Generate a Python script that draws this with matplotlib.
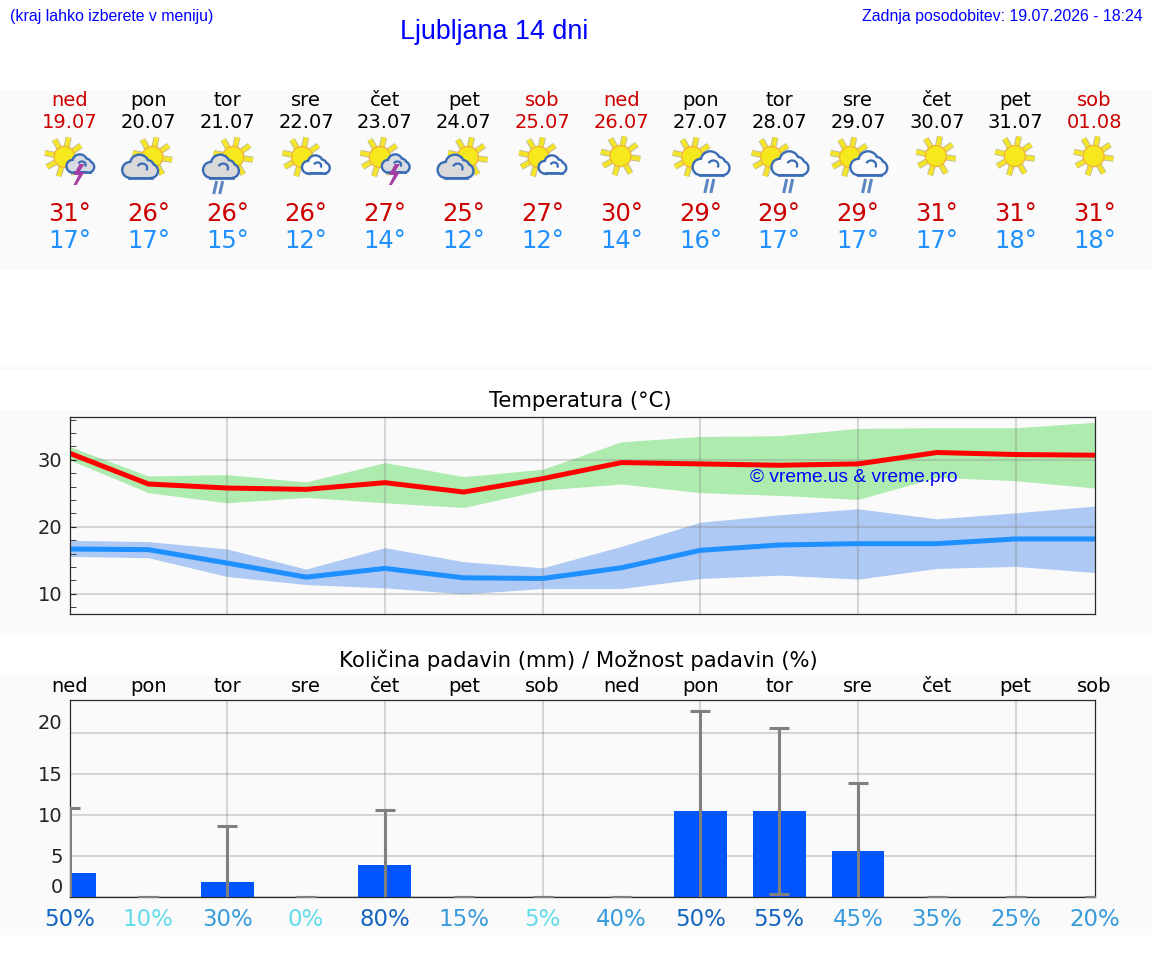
import numpy as np
import matplotlib
matplotlib.use("Agg")
import matplotlib.pyplot as plt
from matplotlib.patches import Circle, Polygon, Rectangle, Arc

W, H = 1152, 975
AX_LEFT, AX_RIGHT = 69.5, 1094.6

day_names = ['ned', 'pon', 'tor', 'sre', 'čet', 'pet', 'sob', 'ned', 'pon', 'tor', 'sre', 'čet', 'pet', 'sob']
dates = ['19.07', '20.07', '21.07', '22.07', '23.07', '24.07', '25.07', '26.07', '27.07', '28.07', '29.07', '30.07', '31.07', '01.08']
high_labels = [31, 26, 26, 26, 27, 25, 27, 30, 29, 29, 29, 31, 31, 31]
low_labels = [17, 17, 15, 12, 14, 12, 12, 14, 16, 17, 17, 17, 18, 18]
icons = ['storm', 'cloudy', 'cloudy_rain', 'fair', 'storm', 'cloudy', 'fair', 'sun',
         'shower', 'shower', 'shower', 'sun', 'sun', 'sun']

temp_high = [31.0, 26.4, 25.8, 25.6, 26.6, 25.2, 27.2, 29.6, 29.4, 29.2, 29.4, 31.1, 30.8, 30.7]
temp_high_up = [32.0, 27.6, 27.8, 26.7, 29.6, 27.5, 28.6, 32.7, 33.5, 33.6, 34.7, 34.8, 34.8, 35.6]
temp_high_down = [30.0, 25.1, 23.6, 24.4, 23.6, 22.9, 25.5, 26.4, 25.1, 24.7, 24.1, 27.4, 26.9, 25.8]
temp_low = [16.7, 16.6, 14.6, 12.5, 13.8, 12.4, 12.3, 13.9, 16.5, 17.3, 17.5, 17.5, 18.2, 18.2]
temp_low_up = [18.0, 17.8, 16.7, 13.7, 16.9, 14.8, 13.9, 17.1, 20.7, 21.8, 22.7, 21.2, 22.1, 23.1]
temp_low_down = [15.6, 15.4, 12.6, 11.4, 10.9, 10.0, 10.8, 10.8, 12.3, 12.8, 12.2, 13.8, 14.1, 13.2]

rain = [2.9, 0, 1.8, 0, 3.9, 0, 0, 0, 10.5, 10.5, 5.6, 0, 0, 0]
rain_low = [0, 0, 0, 0, 0, 0, 0, 0, 0, 0.4, 0, 0, 0, 0]
rain_high = [10.8, 0, 8.6, 0, 10.6, 0, 0, 0, 22.6, 20.6, 13.9, 0, 0, 0]
rain_chance = [50, 10, 30, 0, 80, 15, 5, 40, 50, 55, 45, 35, 25, 20]

days = np.arange(14)
RED = '#cc0000'
SKY = '#1e90ff'
BAND = '#fafafa'
LINK = '#0000ff'
SANS = 'Liberation Sans'


def day_x(i):
    return AX_LEFT + i * (AX_RIGHT - AX_LEFT) / 13


def pixel_axes(zorder):
    a = fig.add_axes([0, 0, 1, 1], zorder=zorder)
    a.set_xlim(0, W)
    a.set_ylim(H, 0)
    a.axis('off')
    return a


def chart_axes(top, bottom):
    a = fig.add_axes([AX_LEFT / W, 1 - bottom / H, (AX_RIGHT - AX_LEFT) / W, (bottom - top) / H], zorder=1)
    a.set_facecolor(BAND)
    a.set_xlim(0, 13)
    a.set_xticks([2, 4, 6, 8, 10, 12])
    a.tick_params(axis='x', length=0, labelbottom=False)
    a.tick_params(axis='y', which='both', direction='in', labelsize=14, colors='#222222', pad=5)
    a.grid(True, color='gray', alpha=0.3, lw=1.5)
    for s in a.spines.values():
        s.set_color('#2a2a2a')
        s.set_linewidth(0.9)
    return a


def sun(cx, cy, r=10.5):
    for ang in [-8, 35, 78, 120, 168, 210, 253, 300]:
        c, s = np.cos(np.radians(ang)), -np.sin(np.radians(ang))
        xs = [cx + c * (r - 1), cx + c * 20]
        ys = [cy + s * (r - 1), cy + s * 20]
        top.plot(xs, ys, color='#b9b9a0', lw=4.4, solid_capstyle='butt', zorder=5)
        top.plot(xs, ys, color='#f4e42a', lw=3.2, solid_capstyle='butt', zorder=5)
    top.add_patch(Circle((cx, cy), r, fc='#f5e81c', ec='#f2b53c', lw=1, zorder=5))


def cloud(cx, cy, width, face):
    k = width / 34
    lobes = [(-10.5, 3, 7), (-1, -3, 8.5), (7, 0, 6), (11, 4, 6)]
    edge = '#3a6cb5'
    for lw, ec in [(3.4, edge), (0, face)]:
        for dx, dy, r in lobes:
            top.add_patch(Circle((cx + dx * k, cy + dy * k), r * k, fc=face, ec=ec, lw=lw, zorder=5))
        top.add_patch(Rectangle((cx - 10.5 * k, cy + 1 * k), 21.5 * k, 9 * k, fc=face, ec=ec, lw=lw, zorder=5))
    top.add_patch(Arc((cx + 2 * k, cy + 1 * k), 10 * k, 9 * k, theta1=200, theta2=30, color=edge, lw=1.6, zorder=5))


def rain_marks(cx, y0, y1):
    for dx in (-3.5, 2.5):
        top.plot([cx + dx + 2, cx + dx - 1], [y0, y1], color='#5b86c2', lw=2.2, solid_capstyle='butt', zorder=5)


def bolt(cx, y0):
    pts = [(1, 0), (-5, 11), (0, 11), (-5, 21), (-2, 21), (6, 8), (1, 8), (6, 0)]
    top.add_patch(Polygon([(cx + a, y0 + b) for a, b in pts], fc='#a43fa4', ec='none', zorder=5))


def draw_icon(x, kind):
    if kind == 'sun':
        sun(x - 1, 156)
    elif kind == 'fair':
        sun(x - 4, 157)
        cloud(x + 10, 165, 25, '#fafafa')
    elif kind == 'cloudy':
        sun(x + 4, 157)
        cloud(x - 8, 167, 33, '#d9d9d9')
    elif kind == 'cloudy_rain':
        sun(x + 6, 157)
        cloud(x - 6, 167, 33, '#d9d9d9')
        rain_marks(x - 9, 181, 194)
    elif kind == 'storm':
        sun(x - 5, 157)
        cloud(x + 11, 164, 25, '#d9dde3')
        bolt(x + 9, 164)
    elif kind == 'shower':
        sun(x - 8, 157)
        cloud(x + 11, 164, 34, '#fafafa')
        rain_marks(x + 9, 179, 193)


def chance_color(p):
    if p >= 50:
        return '#1565c0'
    if p >= 15:
        return '#379bdc'
    return '#62dcec'


fig = plt.figure(figsize=(W / 100, H / 100), dpi=100, facecolor='white')

# grey strips behind the three blocks
back = pixel_axes(0)
for y0, y1 in [(90, 270), (365, 370), (410, 635), (675, 935)]:
    back.axhspan(y0, y1, color=BAND, lw=0)

top = pixel_axes(5)
top.text(10, 17, '(kraj lahko izberete v meniju)', color=LINK, family=SANS, fontsize=11.4, ha='left', va='center')
top.text(494, 32, 'Ljubljana 14 dni', color=LINK, family=SANS, fontsize=19.4, ha='center', va='center')
top.text(1143, 17, 'Zadnja posodobitev: 19.07.2026 - 18:24', color=LINK, family=SANS, fontsize=11.4, ha='right', va='center')

for i in days:
    x = day_x(i)
    col = RED if day_names[i] in ('ned', 'sob') else 'black'
    top.text(x, 101, day_names[i], color=col, fontsize=14, ha='center', va='center')
    top.text(x, 123, dates[i], color=col, fontsize=14, ha='center', va='center')
    draw_icon(x, icons[i])
    top.text(x, 214, f'{high_labels[i]}°', color=RED, fontsize=17.5, ha='center', va='center')
    top.text(x, 241, f'{low_labels[i]}°', color=SKY, fontsize=17.5, ha='center', va='center')

top.text(580, 401, 'Temperatura (°C)', color='black', fontsize=15.2, ha='center', va='center')
top.text(578, 660, 'Količina padavin (mm) / Možnost padavin (%)', color='black', fontsize=15.2, ha='center', va='center')

# temperature
ax1 = chart_axes(417, 614)
ax1.set_ylim(7, 36.4)
ax1.set_yticks([10, 20, 30])
ax1.set_yticks(np.arange(8, 37, 2), minor=True)
ax1.tick_params(axis='y', which='both', length=4)
ax1.fill_between(days, temp_high_down, temp_high_up, color='#aeebae', lw=0)
ax1.fill_between(days, temp_low_down, temp_low_up, color='#aec9f3', lw=0)
ax1.plot(days, temp_high, color='#ff0000', lw=3.6)
ax1.plot(days, temp_low, color=SKY, lw=3.6)
ax1.text(750, 478, '© vreme.us & vreme.pro', color=LINK, family=SANS, fontsize=13.75, ha='left', va='center',
         transform=top.transData, zorder=6)

# precipitation
ax2 = chart_axes(700, 897)
ax2.set_ylim(0, 24)
ax2.set_yticks([0, 5, 10, 15, 20])
ax2.tick_params(axis='y', length=0)
for lab, val in zip(ax2.get_yticklabels(), ax2.get_yticks()):
    if val in (0, 20):
        lab.set_va('bottom')
ax2.bar(days, rain, width=0.67, color='#0055ff', zorder=1.8)
rain_arr = np.array(rain)
low_arr = np.array(rain_low)
yerr = [rain_arr - low_arr, np.array(rain_high) - rain_arr]
_, caps, _ = ax2.errorbar(days, rain, yerr=yerr, fmt='none', ecolor='gray', elinewidth=2.2, capsize=7, capthick=2.2, zorder=3)
# no lower cap where a bar already sits on the axis
keep = (rain_arr == 0) | (low_arr > 0)
caps[0].set_data(days[keep], low_arr[keep])

tr = ax2.get_xaxis_transform()
for i in days:
    ax2.text(i, 1 + 13 / 197, day_names[i], color='black', fontsize=14, ha='center', va='center', transform=tr)
    ax2.text(i, -23 / 197, f'{rain_chance[i]}%', color=chance_color(rain_chance[i]), fontsize=16.5, ha='center', va='center', transform=tr)

fig.savefig('out.png', dpi=100)
